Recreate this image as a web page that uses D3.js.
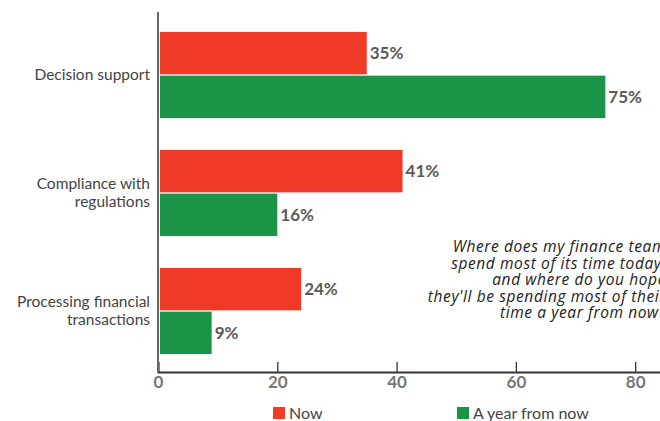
<!DOCTYPE html>
<html>
<head>
<meta charset="utf-8">
<script src="https://cdn.jsdelivr.net/npm/d3@7"></script>
<style>
  body { margin: 0; background: #fff; }
  svg { display: block; }
</style>
</head>
<body>
<div id="chart"></div>
<script>
// data (bar lengths as drawn, labels as printed)
var categories = ["Decision support", "Compliance with regulations", "Processing financial transactions"];
var categoryLines = [["Decision support"], ["Compliance with", "regulations"], ["Processing financial", "transactions"]];
var seriesNames = ["Now", "A year from now"];
var nowValues = [35, 41, 24];
var yearValues = [75, 20, 9];
var nowLabels = ["35%", "41%", "24%"];
var yearLabels = ["75%", "16%", "9%"];
var xTicks = [0, 20, 40, 60, 80];
var noteLines = ["Where does my finance team", "spend most of its time today,", "and where do you hope",
                 "they'll be spending most of their", "time a year from now?"];

var colors = ["#ee3a27", "#1b9448"];
var W = 660, H = 421;
var font = "Lato, 'Open Sans', sans-serif";

var svg = d3.select("#chart").append("svg")
    .attr("width", W)
    .attr("height", H);

var x = d3.scaleLinear().domain([0, 85]).range([158, 665]);
var y = d3.scaleBand().domain(categories).range([16, 370])
    .paddingInner(0.27).paddingOuter(0.135);
var ySub = d3.scaleBand().domain(seriesNames).range([0, y.bandwidth()]).paddingInner(0.03);

var rows = categories.map(function(c, i) {
    return { cat: c, values: [nowValues[i], yearValues[i]], labels: [nowLabels[i], yearLabels[i]] };
});

function items(d) {
    return d.values.map(function(v, k) { return { s: seriesNames[k], v: v, k: k, label: d.labels[k] }; });
}

// bars
var groups = svg.append("g").selectAll("g")
    .data(rows)
    .enter().append("g")
    .attr("transform", function(d) { return "translate(0," + y(d.cat) + ")"; });

groups.selectAll("rect")
    .data(items)
    .enter().append("rect")
    .attr("x", x(0) + 2)
    .attr("y", function(d) { return ySub(d.s); })
    .attr("width", function(d) { return x(d.v) - x(0) - 2; })
    .attr("height", ySub.bandwidth())
    .style("fill", function(d) { return colors[d.k]; });

groups.selectAll("text")
    .data(items)
    .enter().append("text")
    .attr("x", function(d) { return x(d.v) + 3; })
    .attr("y", function(d) { return ySub(d.s) + ySub.bandwidth() / 2; })
    .attr("dy", "0.35em")
    .style("font-family", font)
    .style("font-weight", "bold")
    .style("font-size", "17px")
    .style("fill", "#5a5a5a")
    .text(function(d) { return d.label; });

// category labels
var labels = svg.append("g").selectAll("text")
    .data(rows)
    .enter().append("text")
    .attr("text-anchor", "end")
    .style("font-family", font)
    .style("font-size", "15.5px")
    .style("fill", "#444")
    .attr("transform", function(d) { return "translate(150," + (y(d.cat) + y.bandwidth() / 2) + ")"; });

labels.each(function(d, i) {
    var lines = categoryLines[i];
    var t = d3.select(this);
    lines.forEach(function(line, j) {
        t.append("tspan")
            .attr("x", 0)
            .attr("y", (j - (lines.length - 1) / 2) * 18)
            .attr("dy", "0.35em")
            .text(line);
    });
});

// x axis
var xAxis = d3.axisBottom(x).tickValues(xTicks).tickSize(-10).tickPadding(4);
var gx = svg.append("g")
    .attr("transform", "translate(0,372)")
    .call(xAxis);
gx.select(".domain").attr("stroke", "#333").attr("stroke-width", 2);
gx.selectAll(".tick line").attr("stroke", "#333").attr("stroke-width", 1.3);
gx.selectAll(".tick text")
    .style("font-family", font)
    .style("font-weight", "bold")
    .style("font-size", "17px")
    .style("fill", "#777");

// y axis line
svg.append("line")
    .attr("x1", x(0)).attr("x2", x(0))
    .attr("y1", 12).attr("y2", 372)
    .attr("stroke", "#666")
    .attr("stroke-width", 2);

// note
svg.append("g").selectAll("text")
    .data(noteLines)
    .enter().append("text")
    .attr("x", 666)
    .attr("y", function(d, i) { return 247 + i * 16.5; })
    .attr("dy", "0.35em")
    .attr("text-anchor", "end")
    .style("font-family", "'Open Sans', sans-serif")
    .style("font-style", "italic")
    .style("font-size", "15.5px")
    .style("letter-spacing", "0.6px")
    .style("fill", "#222")
    .text(function(d) { return d; });

// legend
var legendX = [273, 457];
var legend = svg.append("g").selectAll("g")
    .data(seriesNames)
    .enter().append("g")
    .attr("transform", function(d, i) { return "translate(" + legendX[i] + ",407)"; });
legend.append("rect")
    .attr("width", 12).attr("height", 12)
    .style("fill", function(d, i) { return colors[i]; });
legend.append("text")
    .attr("x", 16).attr("y", 6).attr("dy", "0.35em")
    .style("font-family", font)
    .style("font-size", "16px")
    .style("fill", "#444")
    .text(function(d) { return d; });
</script>
</body>
</html>
